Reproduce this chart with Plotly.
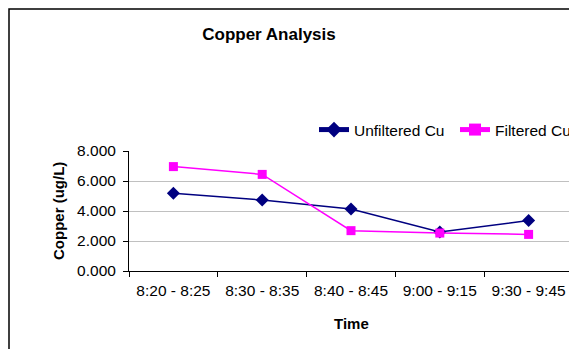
import plotly.graph_objects as go

categories = ["8:20 - 8:25", "8:30 - 8:35", "8:40 - 8:45", "9:00 - 9:15", "9:30 - 9:45"]
unfiltered = [5.18, 4.73, 4.13, 2.60, 3.36]
filtered = [6.96, 6.44, 2.69, 2.53, 2.44]
yticks = [0, 2, 4, 6, 8]

# page body has an 8px margin; work in reference (window) pixel coordinates
OFF = 8
W, H = 577 - OFF, 349 - OFF
PL, PR, PT, PB = 129, 573, 151, 271  # plot area in window coords
L, T = PL - OFF, PT - OFF
R = W - (PR - OFF)
B = H - (PB - OFF)
pw = PR - PL
ph = PB - PT

def px(x):
    return (x - PL) / pw

def py(y):
    return (PB - y) / ph

FONT = "Liberation Sans, Arial, sans-serif"

fig = go.Figure()
fig.add_trace(go.Scatter(
    x=categories, y=unfiltered, name="Unfiltered Cu", mode="lines+markers",
    line=dict(color="#000080", width=1.5),
    marker=dict(symbol="diamond", size=10, color="#000080"),
))
fig.add_trace(go.Scatter(
    x=categories, y=filtered, name="Filtered Cu", mode="lines+markers",
    line=dict(color="#FF00FF", width=1.5),
    marker=dict(symbol="square", size=9, color="#FF00FF"),
))

fig.update_layout(
    width=W, height=H,
    margin=dict(l=L, r=R, t=T, b=B, pad=0, autoexpand=False),
    paper_bgcolor="white", plot_bgcolor="white",
    font=dict(family=FONT, size=15.5, color="black"),
    title=dict(text="<b>Copper Analysis</b>", x=px(269), xref="paper", xanchor="center",
               y=1 - (34 - OFF) / H, yref="container", yanchor="middle",
               font=dict(size=17, family=FONT, color="black")),
    showlegend=True,
    legend=dict(orientation="h", x=px(314), xanchor="left", y=py(130), yanchor="middle",
                bgcolor="rgba(0,0,0,0)", borderwidth=0, entrywidth=96,
                font=dict(size=15.5, family=FONT, color="black"),
                itemsizing="constant"),
    xaxis=dict(type="category", range=[-0.5, 4.5], tickson="boundaries",
               ticks="outside", ticklen=5, tickcolor="black", tickwidth=1,
               showline=True, linecolor="black", linewidth=1, tickangle=0,
               showgrid=False, zeroline=False, ticklabelstandoff=5,
               tickfont=dict(size=15.5, family=FONT, color="black")),
    yaxis=dict(range=[0, 8], tickvals=yticks, tickformat=".3f",
               ticks="outside", ticklen=5, tickcolor="black", tickwidth=1,
               showline=True, linecolor="black", linewidth=1,
               showgrid=True, gridcolor="#c0c0c0", gridwidth=1, zeroline=False,
               ticklabelstandoff=4,
               tickfont=dict(size=15.5, family=FONT, color="black")),
)

fig.add_annotation(text="<b>Copper (ug/L)</b>", textangle=-90, xref="paper", yref="paper",
                   x=px(58), y=0.5, xanchor="center", yanchor="middle", showarrow=False,
                   font=dict(size=15, family=FONT, color="black"))
fig.add_annotation(text="<b>Time</b>", xref="paper", yref="paper",
                   x=px(351), y=py(323), xanchor="center", yanchor="middle", showarrow=False,
                   font=dict(size=15, family=FONT, color="black"))

fig.add_shape(type="rect", xref="paper", yref="paper",
              x0=px(9), x1=px(620), y0=py(400), y1=py(9),
              line=dict(color="black", width=1.5), fillcolor="rgba(0,0,0,0)", layer="below")

fig.write_html("out.html")
